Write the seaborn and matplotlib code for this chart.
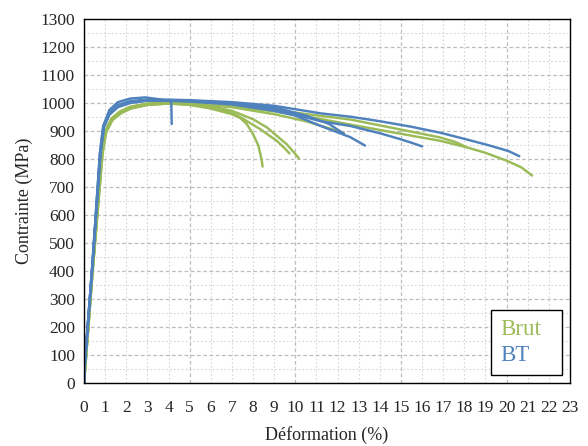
import pandas as pd
import matplotlib.pyplot as plt
import seaborn as sns
from matplotlib.patches import Rectangle
from matplotlib.ticker import MultipleLocator, FormatStrFormatter

# ── DATA (strain %, stress MPa) ──────────────────────────────────────────────

brut_1 = [(0, 0), (0.4, 400), (0.85, 820), (1.0, 895), (1.3, 940), (1.7, 965), (2.2, 982),
          (3.0, 994), (4.0, 998), (5, 993), (6, 980), (7, 960), (7.4, 946), (7.7, 925),
          (8.0, 889), (8.25, 848), (8.4, 800), (8.45, 773)]
brut_2 = [(0, 0), (0.4, 395), (0.87, 820), (1.02, 893), (1.3, 935), (1.7, 962), (2.2, 980),
          (3.0, 993), (4.0, 998), (5, 995), (6, 985), (7, 965), (7.54, 943), (8.33, 907),
          (9.12, 865), (9.5, 838), (9.72, 820)]
brut_3 = [(0, 0), (0.4, 390), (0.88, 820), (1.05, 895), (1.35, 940), (1.8, 966), (2.3, 983),
          (3.0, 994), (4.0, 999), (5, 997), (6, 988), (7, 972), (8, 942), (8.65, 913),
          (9.59, 853), (10.0, 818), (10.17, 802)]
brut_4 = [(0, 0), (0.4, 400), (0.85, 822), (1.0, 898), (1.3, 942), (1.7, 968), (2.2, 985),
          (3.0, 997), (4.0, 1000), (5, 998), (7, 985), (9, 960), (10.5, 935), (11.5, 912),
          (12.3, 893)]
brut_5 = [(0, 0), (0.4, 405), (0.84, 822), (1.0, 900), (1.3, 945), (1.7, 970), (2.2, 987),
          (3.0, 998), (4.0, 1002), (5, 1000), (7, 992), (9, 975), (11.2, 954), (12.6, 941),
          (15, 905), (16.85, 877), (17.6, 860), (18.1, 842)]
brut_6 = [(0, 0), (0.4, 398), (0.86, 820), (1.02, 896), (1.3, 938), (1.7, 964), (2.2, 982),
          (3.0, 995), (4.0, 1000), (5, 998), (7, 988), (9, 970), (11.2, 943), (12.6, 923),
          (15, 890), (16.85, 865), (18.1, 842), (19, 822), (20, 794), (20.7, 770), (21.2, 741)]

bt_1 = [(0, 0), (0.02, 50), (0.4, 430), (0.75, 820), (0.9, 915), (1.2, 975), (1.6, 1003),
        (2.2, 1016), (2.9, 1020), (3.5, 1014), (4.0, 1008), (4.13, 1005), (4.15, 925)]
bt_2 = [(0, 0), (0.02, 50), (0.4, 420), (0.78, 820), (0.95, 915), (1.2, 958), (1.6, 985),
        (2.2, 1000), (3.0, 1008), (4.0, 1008), (5, 1005), (7, 995), (9, 972), (10, 955),
        (11.2, 918), (12.6, 878), (13.3, 848)]
bt_3 = [(0, 0), (0.02, 50), (0.4, 425), (0.77, 822), (0.93, 918), (1.2, 962), (1.6, 990),
        (2.2, 1004), (3.0, 1010), (4.0, 1010), (5, 1007), (7, 998), (9, 978), (11.2, 935),
        (12.6, 918), (14, 892), (14.96, 871), (15.5, 858), (16.0, 845)]
bt_4 = [(0, 0), (0.02, 50), (0.4, 428), (0.76, 825), (0.92, 920), (1.2, 965), (1.6, 993),
        (2.2, 1007), (3.0, 1012), (4.0, 1012), (5, 1010), (7, 1003), (9, 990), (11.2, 963),
        (12.6, 951), (14, 935), (15.5, 915), (16.85, 894), (18, 872), (19.2, 848),
        (20.1, 828), (20.6, 810)]
bt_5 = [(0, 0), (0.02, 50), (0.4, 422), (0.78, 820), (0.94, 916), (1.2, 960), (1.6, 988),
        (2.2, 1003), (3.0, 1009), (4.0, 1010), (5, 1008), (7, 1000), (9, 985), (10.5, 955),
        (11.6, 925), (12.3, 890)]

groups = ['Brut', 'BT']
curves = {'Brut': [brut_1, brut_2, brut_3, brut_4, brut_5, brut_6],
          'BT':   [bt_1, bt_2, bt_3, bt_4, bt_5]}

rows = []
for group, lst in curves.items():
    for i, pts in enumerate(lst):
        for x, y in pts:
            rows.append({'group': group, 'curve': f'{group}_{i}', 'strain': x, 'stress': y})
df = pd.DataFrame(rows)

green = '#9BBB59'
blue = '#4F81BD'

# ── PLOT ─────────────────────────────────────────────────────────────────────

sns.set_style('white')
plt.rcParams['font.family'] = ['Liberation Serif', 'DejaVu Serif']

fig = plt.figure(figsize=(5.88, 4.46), dpi=100)
ax = fig.add_axes([0.1429, 0.1413, 0.8265, 0.8161])

sns.lineplot(data=df, x='strain', y='stress', hue='group', units='curve',
             estimator=None, sort=False, palette={'Brut': green, 'BT': blue},
             hue_order=groups, linewidth=1.75, legend=False, ax=ax)

ax.set_xlim(0, 23)
ax.set_ylim(0, 1300)
ax.xaxis.set_major_locator(MultipleLocator(5))
ax.xaxis.set_minor_locator(MultipleLocator(1))
ax.xaxis.set_major_formatter(FormatStrFormatter('%d'))
ax.xaxis.set_minor_formatter(FormatStrFormatter('%d'))
ax.yaxis.set_major_locator(MultipleLocator(100))
ax.yaxis.set_minor_locator(MultipleLocator(50))

ax.tick_params(axis='both', which='both', labelsize=12.5, color='black')
ax.tick_params(axis='both', which='major', direction='inout', length=7, width=0.8)
ax.tick_params(axis='both', which='minor', direction='out', length=3.5, width=0.8)
ax.tick_params(axis='y', which='both', pad=3)
ax.tick_params(axis='x', which='both', pad=8.5)

ax.grid(True, which='major', color='#bdbdbd', linestyle=(0, (3, 2)), linewidth=0.9)
ax.grid(True, which='minor', color='#d6d6d6', linestyle=(0, (1.5, 2)), linewidth=0.8)
ax.set_axisbelow(True)

for sp in ax.spines.values():
    sp.set_color('black')
    sp.set_linewidth(1.0)

ax.set_xlabel('Déformation (%)', fontsize=13, labelpad=7.5)
ax.set_ylabel('Contrainte (MPa)', fontsize=13, labelpad=5)

# legend box: coloured text only, no handles
ax.add_patch(Rectangle((0.8374, 0.022), 0.146, 0.178, transform=ax.transAxes,
                       facecolor='white', edgecolor='black', linewidth=1.0, zorder=5))
ax.text(0.857, 0.148, groups[0], color=green, fontsize=16.5, va='center', ha='left',
        transform=ax.transAxes, zorder=6)
ax.text(0.857, 0.075, groups[1], color=blue, fontsize=16.5, va='center', ha='left',
        transform=ax.transAxes, zorder=6)

plt.savefig('out.png', dpi=100)
